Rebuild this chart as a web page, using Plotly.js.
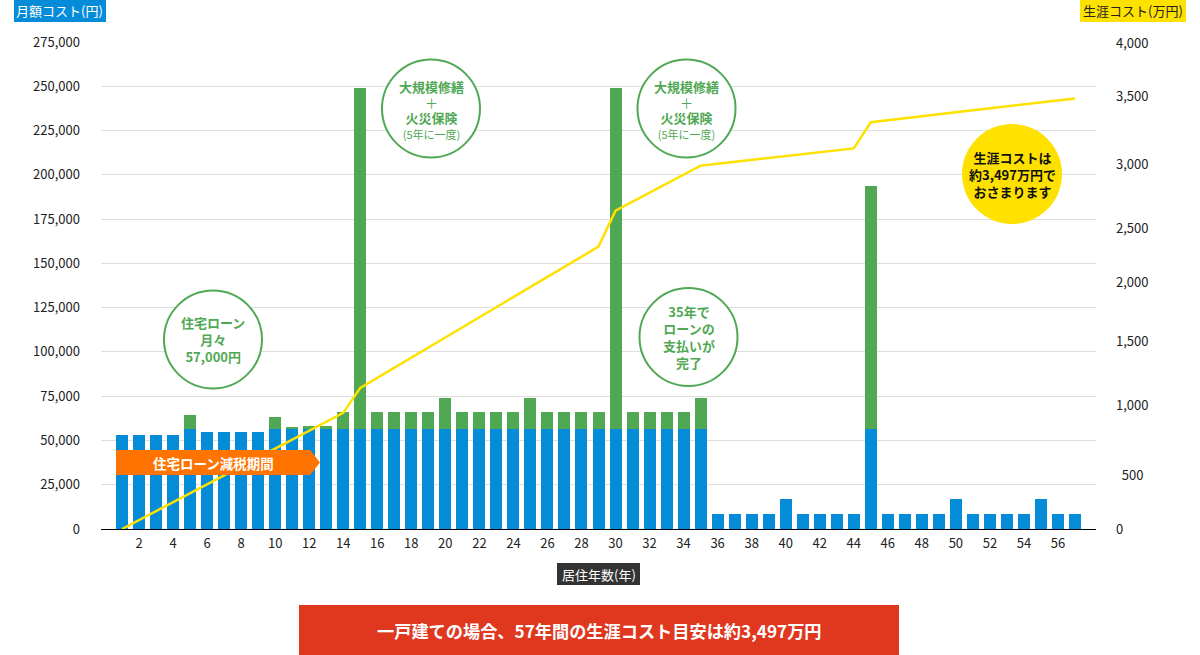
<!DOCTYPE html>
<html lang="ja">
<head>
<meta charset="utf-8">
<script src="https://cdn.plot.ly/plotly-3.0.1.min.js"></script>
<style>html,body{margin:0;padding:0;background:#fff;overflow:hidden}#chart{width:1200px;height:655px}</style>
</head>
<body>
<div id="chart"></div>
<script>
const years = [1,2,3,4,5,6,7,8,9,10,11,12,13,14,15,16,17,18,19,20,21,22,23,24,25,26,27,28,29,30,31,32,33,34,35,36,37,38,39,40,41,42,43,44,45,46,47,48,49,50,51,52,53,54,55,56,57];
const loanCost = [53000,53000,53000,53000,56500,55000,55000,55000,55000,56500,56500,56500,56500,56500,56500,56500,56500,56500,56500,56500,56500,56500,56500,56500,56500,56500,56500,56500,56500,56500,56500,56500,56500,56500,56500,8500,8500,8500,8500,17000,8500,8500,8500,8500,56500,8500,8500,8500,8500,17000,8500,8500,8500,8500,17000,8500,8500];
const repairCost = [0,0,0,0,8000,0,0,0,0,6800,1100,1700,1700,9600,192800,9600,9600,9600,9600,17500,9600,9600,9600,9600,17500,9600,9600,9600,9600,192800,9600,9600,9600,9600,17500,0,0,0,0,0,0,0,0,0,137400,0,0,0,0,0,0,0,0,0,0,0,0];
const lifetimeCost = [0,73,146,218,290,365,436,508,580,652,725,797,870,943,1146,1228,1310,1392,1474,1556,1638,1720,1802,1884,1966,2048,2130,2211,2293,2585,2658,2731,2805,2878,2951,2967,2982,2998,3014,3029,3045,3060,3076,3091,3303,3319,3335,3351,3368,3384,3400,3416,3432,3449,3465,3481,3497];
const xTicks = [2,4,6,8,10,12,14,16,18,20,22,24,26,28,30,32,34,36,38,40,42,44,46,48,50,52,54,56];
const rightTickVals = [0,439,1000,1520,2000,2439,2959,3512,3947];
const rightTickText = ['0','\u00a0\u00a0500','1,000','1,500','2,000','2,500','3,000','3,500','4,000'];

const FONT = '"Noto Sans CJK JP","Noto Sans",sans-serif';
const BLUE = '#058cd8', GREEN = '#51a854', YELLOW = '#ffe100', RED = '#e0371f', DARK = '#333333';
const L = 101, R = 1096, T = 42, B = 529;
const px = x => (x - L) / (R - L);
const py = y => (B - y) / (B - T);

const circle = (cx, cy, r, fill, line) => ({
  type: 'circle', xref: 'paper', yref: 'paper', layer: 'above',
  x0: px(cx - r), x1: px(cx + r), y0: py(cy + r), y1: py(cy - r),
  fillcolor: fill, line: line ? {color: line, width: 2} : {width: 0}
});
const rect = (x0, x1, y0, y1, fill) => ({
  type: 'rect', xref: 'paper', yref: 'paper', layer: 'above',
  x0: px(x0), x1: px(x1), y0: py(y1), y1: py(y0), fillcolor: fill, line: {width: 0}
});
const label = (cx, cy, text, color, size, bold) => ({
  xref: 'paper', yref: 'paper', x: px(cx), y: py(cy), xanchor: 'center', yanchor: 'middle',
  showarrow: false, align: 'center', borderpad: 0, borderwidth: 0,
  text: bold ? '<b>' + text + '</b>' : text,
  font: {family: FONT, size: size, color: color}
});
const repairCircleText =
  '<b><span style="font-size:13px">大規模修繕</span></b><br>' +
  '<span style="font-size:13px">＋</span><br>' +
  '<b><span style="font-size:13px">火災保険</span></b><br>' +
  '<span style="font-size:11px">(5年に一度)</span>';

const shapes = [
  rect(14, 106, 0, 22, BLUE),
  rect(1080, 1186, 0, 22, YELLOW),
  rect(557, 640, 563, 585, DARK),
  rect(299, 899, 605, 655, RED),
  circle(431, 108.5, 49, '#fff', GREEN),
  circle(686.5, 108.5, 49, '#fff', GREEN),
  circle(213, 339.5, 49, '#fff', GREEN),
  circle(688.5, 337, 49, '#fff', GREEN),
  circle(1012, 174, 50, YELLOW, null),
  {type: 'path', xref: 'paper', yref: 'paper', layer: 'above', fillcolor: '#ff7300', line: {width: 0},
   path: `M ${px(116)} ${py(450)} L ${px(310)} ${py(450)} L ${px(320)} ${py(462.5)} L ${px(310)} ${py(475)} L ${px(116)} ${py(475)} Z`}
];

const annotations = [
  label(59.5, 11, '月額コスト(円)', '#fff', 13, false),
  label(1133, 11, '生涯コスト(万円)', '#222', 13, false),
  label(598.5, 574, '居住年数(年)', '#fff', 13, false),
  label(599.5, 630, '一戸建ての場合、57年間の生涯コスト目安は約3,497万円', '#fff', 17.2, true),
  label(213.5, 462.5, '住宅ローン減税期間', '#fff', 13.5, true),
  label(431, 110, repairCircleText, GREEN, 12, false),
  label(686.5, 110, repairCircleText, GREEN, 12, false),
  label(213, 339, '住宅ローン<br>月々<br>57,000円', GREEN, 13, true),
  label(688.5, 336.5, '35年で<br>ローンの<br>支払いが<br>完了', GREEN, 13, true),
  label(1012, 174.5, '生涯コストは<br>約3,497万円で<br>おさまります', '#111', 13, true)
];

const traces = [
  {type: 'bar', x: years, y: loanCost, marker: {color: BLUE}, width: 0.705, hoverinfo: 'skip', name: '月額コスト'},
  {type: 'bar', x: years, y: repairCost, marker: {color: GREEN}, width: 0.705, hoverinfo: 'skip', name: '修繕費'},
  {type: 'scatter', mode: 'lines', x: years, y: lifetimeCost, yaxis: 'y2', line: {color: YELLOW, width: 2.5}, hoverinfo: 'skip', name: '生涯コスト'}
];

const layout = {
  width: 1200, height: 655,
  margin: {l: L, r: 1200 - R, t: T, b: 655 - B, pad: 0},
  paper_bgcolor: '#fff', plot_bgcolor: '#fff',
  barmode: 'stack', showlegend: false,
  font: {family: FONT, size: 13, color: '#222'},
  xaxis: {
    range: [-0.235, 58.235], tickmode: 'array', tickvals: xTicks, ticks: '',
    showgrid: false, zeroline: false, showline: true, linecolor: '#000', linewidth: 1,
    ticklabelstandoff: 2, fixedrange: true, tickfont: {family: FONT, size: 13, color: '#222'}
  },
  yaxis: {
    range: [0, 275000], dtick: 25000, tickformat: ',d', ticks: '',
    showgrid: true, gridcolor: '#dedede', gridwidth: 1.2, zeroline: false,
    ticklabelstandoff: 20, fixedrange: true,
    tickfont: {family: FONT, size: 13, color: '#222'}
  },
  yaxis2: {
    overlaying: 'y', side: 'right', range: [0, 3955],
    tickmode: 'array', tickvals: rightTickVals, ticktext: rightTickText, ticks: '',
    showgrid: false, zeroline: false, ticklabelstandoff: 19, fixedrange: true,
    tickfont: {family: FONT, size: 13, color: '#222'}
  },
  shapes: shapes,
  annotations: annotations
};

Plotly.newPlot('chart', traces, layout, {displayModeBar: false, responsive: false});
</script>
</body>
</html>
